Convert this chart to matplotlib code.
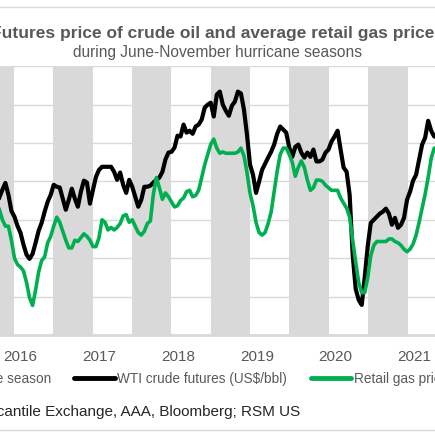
import matplotlib
matplotlib.use("Agg")
import matplotlib.pyplot as plt
import matplotlib.dates as mdates
from matplotlib.lines import Line2D
from matplotlib.patches import Patch
import pandas as pd

plt.rcParams['font.family'] = ['Liberation Sans', 'DejaVu Sans']

# biweekly observations
dates = pd.date_range('2015-09-25', periods=146, freq='14D')

# WTI crude futures, US$/bbl
wti = [45.8, 47.8, 49.6, 46.5, 42.3, 40.8, 38.4, 36.6, 33.5, 30.9, 29.8,
       31.1, 34.0, 37.1, 39.2, 42.1, 44.7, 46.5, 49.1, 48.6, 48.4,
       45.5, 42.6, 45.2, 48.1, 45.5, 43.4, 47.3, 50.2, 49.7, 44.2,
       47.8, 51.2, 53.0, 53.8, 53.8, 53.8, 53.8, 52.5, 50.4, 52.3,
       49.1, 47.0, 50.4, 48.6, 46.0, 43.4, 45.2, 48.6, 48.6, 48.9,
       49.7, 50.4, 51.0, 52.5, 55.7, 57.5, 57.7, 58.8, 61.9, 61.7,
       64.8, 62.7, 63.2, 62.4, 64.3, 64.8, 66.1, 69.2, 70.0, 70.5,
       66.9, 72.6, 73.4, 70.0, 68.4, 67.1, 69.7, 70.8, 73.4, 72.9,
       68.7, 62.2, 54.4, 51.7, 47.0, 49.9, 53.0, 54.6, 56.2, 57.7,
       59.6, 62.4, 64.3, 63.5, 62.7, 58.8, 56.4, 59.0, 59.6, 57.5,
       56.2, 57.5, 56.4, 58.3, 55.2, 55.2, 55.7, 57.5, 58.3, 60.4,
       61.7, 63.2, 58.3, 53.6, 52.5, 46.5, 30.9, 22.0, 19.1, 17.8,
       25.1, 33.2, 39.2, 40.0, 40.8, 41.6, 42.1, 42.9, 41.6, 38.7,
       40.5, 37.9, 38.7, 40.5, 45.2, 47.3, 50.2, 51.7, 55.7, 59.6,
       61.4, 65.8, 63.2, 61.7, 61.7]

# retail gas price, US$/gal
gas = [2.38, 2.30, 2.25, 2.25, 2.14, 2.00, 1.95, 1.93, 1.90, 1.81, 1.69,
       1.63, 1.75, 1.89, 1.98, 2.01, 2.12, 2.17, 2.25, 2.32, 2.28,
       2.21, 2.14, 2.08, 2.08, 2.14, 2.13, 2.16, 2.19, 2.17, 2.14,
       2.09, 2.09, 2.16, 2.30, 2.28, 2.22, 2.24, 2.22, 2.24, 2.27,
       2.33, 2.34, 2.28, 2.30, 2.25, 2.20, 2.18, 2.21, 2.27, 2.29,
       2.50, 2.63, 2.55, 2.46, 2.51, 2.48, 2.44, 2.40, 2.41, 2.45,
       2.47, 2.52, 2.53, 2.48, 2.49, 2.53, 2.63, 2.73, 2.81, 2.89,
       2.93, 2.86, 2.82, 2.83, 2.82, 2.82, 2.82, 2.82, 2.83, 2.86,
       2.80, 2.67, 2.51, 2.41, 2.28, 2.20, 2.18, 2.20, 2.27, 2.36,
       2.52, 2.68, 2.81, 2.86, 2.86, 2.81, 2.75, 2.64, 2.71, 2.76,
       2.71, 2.61, 2.53, 2.55, 2.61, 2.61, 2.60, 2.57, 2.55, 2.53,
       2.53, 2.53, 2.47, 2.43, 2.39, 2.32, 2.14, 1.97, 1.81, 1.73,
       1.73, 1.85, 2.02, 2.10, 2.13, 2.13, 2.13, 2.13, 2.15, 2.15,
       2.13, 2.12, 2.10, 2.07, 2.05, 2.07, 2.11, 2.18, 2.28, 2.39,
       2.50, 2.63, 2.78, 2.86, 2.86]

season_years = [2015, 2016, 2017, 2018, 2019, 2020]
year_ticks = [2016, 2017, 2018, 2019, 2020, 2021]

GRAY_TXT = '#595959'
BAND = '#d9d9d9'
GREEN = '#00b050'

fig = plt.figure(figsize=(4.355, 4.355), dpi=100)
ax = fig.add_axes([0.0, 0.2299, 1.0, 0.6168])

# hurricane seasons, June-November
for y in season_years:
    ax.axvspan(pd.Timestamp(y, 6, 1), pd.Timestamp(y, 12, 1),
               color=BAND, lw=0, zorder=1)

ax.plot(dates, wti, color='black', lw=3.0, zorder=3,
        solid_joinstyle='round')
ax.set_ylim(10, 80)
ax.set_yticks(range(10, 81, 10))
ax.grid(axis='y', color=BAND, lw=1.0, zorder=0)
ax.set_axisbelow(True)
ax.set_xlim(pd.Timestamp('2015-09-28'), pd.Timestamp('2021-04-08'))
ax.set_xticks([pd.Timestamp(y, 1, 1) for y in year_ticks])
ax.xaxis.set_major_formatter(mdates.DateFormatter('%Y'))
ax.tick_params(axis='x', length=0, pad=10.4, labelsize=11, labelcolor=GRAY_TXT)
ax.tick_params(axis='y', left=False, labelleft=False)
for s in ['top', 'left', 'right']:
    ax.spines[s].set_visible(False)
ax.spines['bottom'].set_color(BAND)
ax.spines['bottom'].set_linewidth(2)

ax2 = ax.twinx()
ax2.plot(dates, gas, color=GREEN, lw=2.6, zorder=4, solid_joinstyle='round')
ax2.set_ylim(1.40, 3.50)
ax2.tick_params(axis='y', right=False, labelright=False)
for s in ax2.spines.values():
    s.set_visible(False)

fig.text(0.5, 0.922, 'Futures price of crude oil and average retail gas prices',
         ha='center', va='center', fontsize=12.5, fontweight='bold', color=GRAY_TXT)
fig.text(0.5, 0.879, 'during June-November hurricane seasons',
         ha='center', va='center', fontsize=11.2, color=GRAY_TXT)

handles = [Patch(facecolor=BAND, edgecolor='none'),
           Line2D([], [], color='black', lw=3.5, solid_capstyle='round'),
           Line2D([], [], color=GREEN, lw=3.5, solid_capstyle='round')]
labels = ['Hurricane season', 'WTI crude futures (US$/bbl)', 'Retail gas price (US$/gal)']
fig.legend(handles, labels, loc='center', bbox_to_anchor=(0.471, 0.129), ncol=3,
           frameon=False, fontsize=9.85, labelcolor=GRAY_TXT, handlelength=2.95,
           handletextpad=0.2, columnspacing=1.7)

fig.text(0.69, 0.055, 'Source: New York Mercantile Exchange, AAA, Bloomberg; RSM US',
         ha='right', va='center', fontsize=11, color='#262626')

# chart area border
for yb in [1 - 7 / 435, 1 - 430 / 435]:
    fig.add_artist(Line2D([0, 1], [yb, yb], transform=fig.transFigure,
                          color=BAND, lw=1))

fig.savefig('out.png', dpi=100)
